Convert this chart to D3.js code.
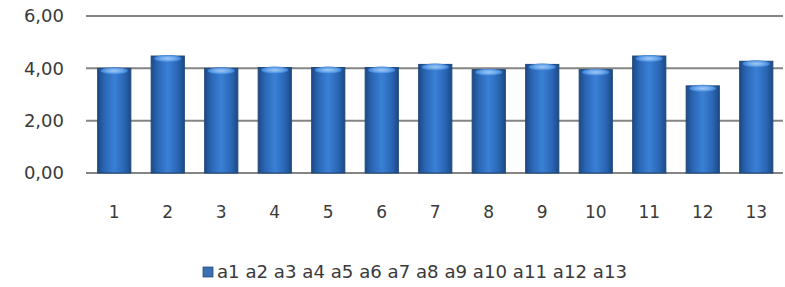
<!DOCTYPE html>
<html><head><meta charset="utf-8">
<script src="https://cdn.jsdelivr.net/npm/d3@7"></script>
<style>body{margin:0;background:#fff}svg{display:block}text{font-family:"DejaVu Sans",sans-serif;fill:#3a3a3a}</style>
</head><body><svg id="c" width="785" height="287"></svg>
<script>
const categories = ["1","2","3","4","5","6","7","8","9","10","11","12","13"];
const values = [4.00, 4.47, 4.00, 4.03, 4.03, 4.03, 4.15, 3.95, 4.15, 3.95, 4.47, 3.33, 4.27];
const yTicks = [0, 2, 4, 6];
const legendLabel = "a1 a2 a3 a4 a5 a6 a7 a8 a9 a10 a11 a12 a13";

const svg = d3.select("#c");
const x = d3.scaleBand().domain(categories).range([87.5, 783]).paddingInner(0.38).paddingOuter(0.19);
const y = d3.scaleLinear().domain([0, 6]).range([173, 16]);
const fmt = v => d3.format(".2f")(v).replace(".", ",");

const defs = svg.append("defs");
const g1 = defs.append("linearGradient").attr("id","barg").attr("x1","0").attr("x2","1").attr("y1","0").attr("y2","0");
[[0,"#1c4a86"],[0.2,"#2a66b4"],[0.5,"#3a80d6"],[0.8,"#2a66b4"],[1,"#1c4a86"]].forEach(s=>g1.append("stop").attr("offset",s[0]).attr("stop-color",s[1]));
const g2 = defs.append("radialGradient").attr("id","hl").attr("cx","0.5").attr("cy","0.5").attr("r","0.5");
[[0,"#9fcaf5"],[0.6,"#6aa6ea"],[1,"#3a80d6"]].forEach(s=>g2.append("stop").attr("offset",s[0]).attr("stop-color",s[1]));

// gridlines
svg.append("g").selectAll("line").data(yTicks).join("line")
  .attr("x1", 86).attr("x2", 783)
  .attr("y1", d => y(d)).attr("y2", d => y(d))
  .attr("stroke", "#858585").attr("stroke-width", 2);

// y labels
svg.append("g").selectAll("text").data(yTicks).join("text")
  .attr("x", 64).attr("y", d => y(d)).attr("dy", "0.36em")
  .attr("text-anchor", "end").attr("font-size", 18).text(fmt);

// bars
const bars = svg.append("g").selectAll("g").data(values).join("g");
bars.append("rect")
  .attr("x", (d,i) => x(categories[i])).attr("width", x.bandwidth())
  .attr("y", d => y(d)).attr("height", d => y(0) - y(d))
  .attr("fill", "url(#barg)").attr("stroke", "#1f4778").attr("stroke-width", 1);
bars.append("ellipse")
  .attr("cx", (d,i) => x(categories[i]) + x.bandwidth()/2)
  .attr("cy", d => y(d) + 2.5)
  .attr("rx", x.bandwidth()/2 - 3).attr("ry", 3.5)
  .attr("fill", "url(#hl)");

// x labels
svg.append("g").selectAll("text").data(categories).join("text")
  .attr("x", d => x(d) + x.bandwidth()/2).attr("y", 212).attr("dy", "0.36em")
  .attr("text-anchor", "middle").attr("font-size", 17).text(d => d);

// legend
const lg = svg.append("g");
lg.append("rect").attr("x", 203).attr("y", 267).attr("width", 10).attr("height", 10)
  .attr("fill", "#3a6fb0").attr("stroke", "#2a4f80").attr("stroke-width", 0.8);
lg.append("text").attr("x", 217).attr("y", 272).attr("dy", "0.36em")
  .attr("font-size", 17).attr("textLength", 410).attr("lengthAdjust", "spacingAndGlyphs").text(legendLabel);
</script></body></html>
